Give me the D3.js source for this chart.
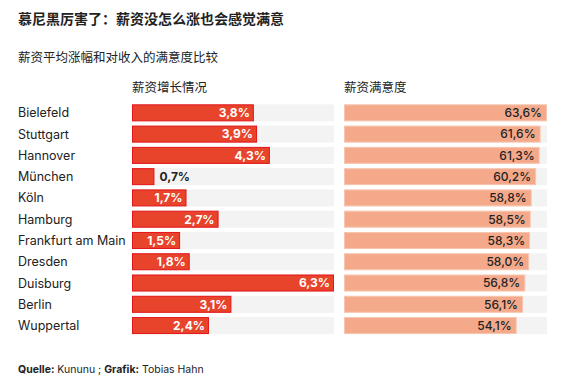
<!DOCTYPE html>
<html><head><meta charset="utf-8">
<script src="https://cdn.jsdelivr.net/npm/d3@7/dist/d3.min.js"></script>
<style>
body{margin:0;background:#fff;}
text{font-family:Inter,"Noto Sans CJK SC",sans-serif;}
</style></head>
<body><svg id="c" width="567" height="386"></svg>
<script>
const cities = ["Bielefeld","Stuttgart","Hannover","München","Köln","Hamburg","Frankfurt am Main","Dresden","Duisburg","Berlin","Wuppertal"];
const growth = [3.8,3.9,4.3,0.7,1.7,2.7,1.5,1.8,6.3,3.1,2.4];
const satisfaction = [63.6,61.6,61.3,60.2,58.8,58.5,58.3,58.0,56.8,56.1,54.1];
const title = "慕尼黑厉害了：薪资没怎么涨也会感觉满意";
const subtitle = "薪资平均涨幅和对收入的满意度比较";
const headers = ["薪资增长情况","薪资满意度"];

const svg = d3.select("#c");
const fmt = v => v.toFixed(1).replace(".", ",") + "%";

svg.append("text").attr("x",18).attr("y",24).attr("font-size",14).attr("font-weight","bold").attr("fill","#222").text(title);
svg.append("text").attr("x",18).attr("y",62).attr("font-size",12.5).attr("fill","#222").text(subtitle);

const y = d3.scaleBand().domain(cities).range([102.2,336.2]).paddingInner(0.2).paddingOuter(0.1);
const x1 = d3.scaleLinear().domain([0,6.3]).range([132,334]);
const x2 = d3.scaleLinear().domain([0,63.6]).range([344,547]);

svg.append("text").attr("x",132).attr("y",92).attr("font-size",12.5).attr("fill","#222").text(headers[0]);
svg.append("text").attr("x",344).attr("y",92).attr("font-size",12.5).attr("fill","#222").text(headers[1]);

const rows = svg.selectAll("g.row").data(cities).join("g").attr("class","row");
rows.append("text").attr("x",18).attr("y",c=>y(c)+y.bandwidth()/2).attr("dy","0.36em")
  .attr("font-size",12.5).attr("fill","#222").text(c=>c);

// backgrounds
rows.append("rect").attr("x",x1(0)).attr("y",c=>y(c)).attr("width",x1(6.3)-x1(0)).attr("height",y.bandwidth()).attr("fill","#f3f3f3");
rows.append("rect").attr("x",x2(0)).attr("y",c=>y(c)).attr("width",x2(63.6)-x2(0)).attr("height",y.bandwidth()).attr("fill","#f3f3f3");

// growth bars
rows.append("rect").attr("x",x1(0)+0.5).attr("y",c=>y(c)+0.5)
  .attr("width",(c,i)=>x1(growth[i])-x1(0)-1).attr("height",y.bandwidth()-1)
  .attr("fill","#e8432b").attr("stroke","#e3141a").attr("stroke-width",1);
rows.append("text")
  .attr("x",(c,i)=> growth[i] < 1 ? x1(growth[i])+5 : x1(growth[i])-4)
  .attr("y",c=>y(c)+y.bandwidth()/2).attr("dy","0.36em")
  .attr("text-anchor",(c,i)=> growth[i] < 1 ? "start" : "end")
  .attr("font-size",12).attr("font-weight","bold")
  .attr("fill",(c,i)=> growth[i] < 1 ? "#222" : "#fff")
  .text((c,i)=>fmt(growth[i]));

// satisfaction bars
rows.append("rect").attr("x",x2(0)+0.5).attr("y",c=>y(c)+0.5)
  .attr("width",(c,i)=>x2(satisfaction[i])-x2(0)-1).attr("height",y.bandwidth()-1)
  .attr("fill","#f4a98b").attr("stroke","#f8c6b0").attr("stroke-width",1);
rows.append("text")
  .attr("x",(c,i)=>x2(satisfaction[i])-5)
  .attr("y",c=>y(c)+y.bandwidth()/2).attr("dy","0.36em")
  .attr("text-anchor","end").attr("font-size",12).attr("font-weight",500).attr("fill","#222")
  .text((c,i)=>fmt(satisfaction[i]));

const foot = svg.append("text").attr("x",18).attr("y",373).attr("font-size",10.5).attr("fill","#222");
foot.append("tspan").attr("font-weight","bold").text("Quelle:");
foot.append("tspan").text(" Kununu ; ");
foot.append("tspan").attr("font-weight","bold").text("Grafik:");
foot.append("tspan").text(" Tobias Hahn");
</script></body></html>
